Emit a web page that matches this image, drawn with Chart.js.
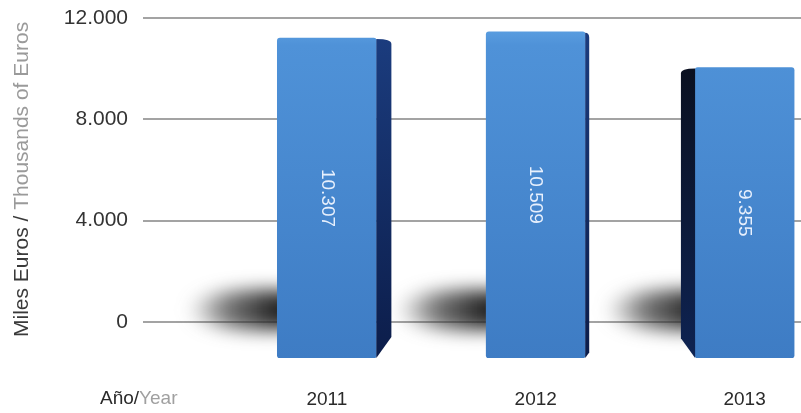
<!DOCTYPE html>
<html>
<head>
<meta charset="utf-8">
<script src="https://cdn.jsdelivr.net/npm/chart.js@4.4.0/dist/chart.umd.min.js"></script>
<style>
  html, body { margin: 0; padding: 0; background: #fff; }
  canvas { display: block; }
</style>
</head>
<body>
<canvas id="myCanvas" width="801" height="413"></canvas>
<script>
// data
const years = [2011, 2012, 2013];
const values = [10307, 10509, 9355];
const yTicks = [0, 4000, 8000, 12000];

const FONT = "'Liberation Sans', Arial, Helvetica, sans-serif";
const fmt = v => v.toLocaleString("de-DE");

// soft shadow cast to the left of each bar, near the floor
const shadowPlugin = {
  id: "shadows",
  beforeDatasetsDraw(chart) {
    const ctx = chart.ctx;
    chart.getDatasetMeta(0).data.forEach(bar => {
      const { x, base, width } = bar.getProps(["x", "base", "width"], true);
      const left = x - width / 2;
      ctx.save();
      ctx.filter = "blur(9px)";
      const g = ctx.createLinearGradient(left - 90, 0, left, 0);
      g.addColorStop(0, "rgba(70,70,70,0)");
      g.addColorStop(0.45, "rgba(60,60,60,0.7)");
      g.addColorStop(1, "rgba(35,35,35,1)");
      ctx.fillStyle = g;
      ctx.beginPath();
      ctx.ellipse(left - 15, base - 48, 75, 20, 0, 0, Math.PI * 2);
      ctx.fill();
      ctx.restore();
    });
  },
};

// dark side faces for the 3d look
const sidePlugin = {
  id: "sides",
  afterDatasetsDraw(chart) {
    const ctx = chart.ctx;
    const vp = 542;
    chart.getDatasetMeta(0).data.forEach(bar => {
      const { x, y, base, width } = bar.getProps(["x", "y", "base", "width"], true);
      let s = 0.07 * (vp - x);
      if (Math.abs(s) < 4) s = 4;
      const edge = s > 0 ? x + width / 2 : x - width / 2;
      const g = ctx.createLinearGradient(0, y, 0, base);
      if (s > 0) {
        g.addColorStop(0, "#1b3c7e");
        g.addColorStop(1, "#0c1d4a");
      } else {
        g.addColorStop(0, "#0a1020");
        g.addColorStop(1, "#0e2352");
      }
      ctx.save();
      ctx.fillStyle = g;
      ctx.beginPath();
      ctx.moveTo(edge, y + 1);
      ctx.quadraticCurveTo(edge + s, y + 1, edge + s, y + 6);
      ctx.lineTo(edge + s, base - Math.abs(s) * 1.4);
      ctx.lineTo(edge, base);
      ctx.closePath();
      ctx.fill();
      ctx.restore();
    });
  },
};

// value labels written down the bars
const valuePlugin = {
  id: "values",
  afterDatasetsDraw(chart) {
    const ctx = chart.ctx;
    chart.getDatasetMeta(0).data.forEach((bar, i) => {
      const { x, y, base } = bar.getProps(["x", "y", "base"], true);
      ctx.save();
      ctx.translate(x, (y + base) / 2);
      ctx.rotate(Math.PI / 2);
      ctx.font = "19px " + FONT;
      ctx.fillStyle = "rgba(240,246,255,0.95)";
      ctx.textAlign = "center";
      ctx.textBaseline = "middle";
      ctx.fillText(fmt(values[i]), 0, 0);
      ctx.restore();
    });
  },
};

// two-colour axis titles
const titlePlugin = {
  id: "titles",
  afterDraw(chart) {
    const ctx = chart.ctx;
    ctx.save();
    ctx.font = "21px " + FONT;
    ctx.textBaseline = "alphabetic";
    ctx.textAlign = "left";
    ctx.translate(28, 337);
    ctx.rotate(-Math.PI / 2);
    const a = "Miles Euros / ";
    ctx.fillStyle = "#3a3a3a";
    ctx.fillText(a, 0, 0);
    ctx.fillStyle = "#9a9a9a";
    ctx.fillText("Thousands of Euros", ctx.measureText(a).width, 0);
    ctx.restore();

    ctx.save();
    ctx.font = "19px " + FONT;
    ctx.textBaseline = "alphabetic";
    const b = "Año/";
    ctx.fillStyle = "#2a2a2a";
    ctx.fillText(b, 100, 404);
    ctx.fillStyle = "#a0a0a0";
    ctx.fillText("Year", 100 + ctx.measureText(b).width, 404);
    ctx.restore();
  },
};

const ctx = document.getElementById("myCanvas").getContext("2d");

new Chart(ctx, {
  type: "bar",
  data: {
    datasets: [
      {
        data: years.map((yr, i) => ({ x: yr, y: values[i] })),
        yAxisID: "yBar",
        barThickness: 99,
        borderRadius: 3,
        borderSkipped: false,
        backgroundColor(c) {
          const area = c.chart.chartArea;
          if (!area) return "#4a8ad2";
          const g = c.chart.ctx.createLinearGradient(0, area.top, 0, area.bottom);
          g.addColorStop(0, "#62a6e6");
          g.addColorStop(0.08, "#4f92d8");
          g.addColorStop(1, "#3e7cc4");
          return g;
        },
      },
    ],
  },
  options: {
    responsive: false,
    animation: false,
    devicePixelRatio: 1,
    layout: { padding: { top: 0, right: 0, left: 0, bottom: 0 } },
    plugins: {
      legend: { display: false },
      tooltip: { enabled: false },
    },
    scales: {
      x: {
        type: "linear",
        offset: false,
        min: 2010.12,
        max: 2013.27,
        afterBuildTicks: s => { s.ticks = years.map(v => ({ value: v })); },
        afterFit: s => { s.height = 55; },
        grid: { display: false, drawTicks: false, offset: false },
        border: { display: false },
        ticks: {
          padding: 30,
          color: "#2a2a2a",
          font: { family: FONT, size: 19 },
          callback: v => String(v),
        },
      },
      y: {
        position: "left",
        min: -1421,
        max: 12000,
        afterBuildTicks: s => { s.ticks = yTicks.map(v => ({ value: v })); },
        afterFit: s => { s.width = 143; s.paddingTop = 18; },
        grid: { color: "#a3a3a3", lineWidth: 2, drawTicks: false },
        border: { display: false },
        ticks: {
          padding: 15,
          color: "#333",
          font: { family: FONT, size: 21, lineHeight: 1 },
          callback: v => fmt(v),
        },
      },
      yBar: {
        display: false,
        min: 0,
        max: 10951,
      },
    },
  },
  plugins: [shadowPlugin, sidePlugin, valuePlugin, titlePlugin],
});
</script>
</body>
</html>
